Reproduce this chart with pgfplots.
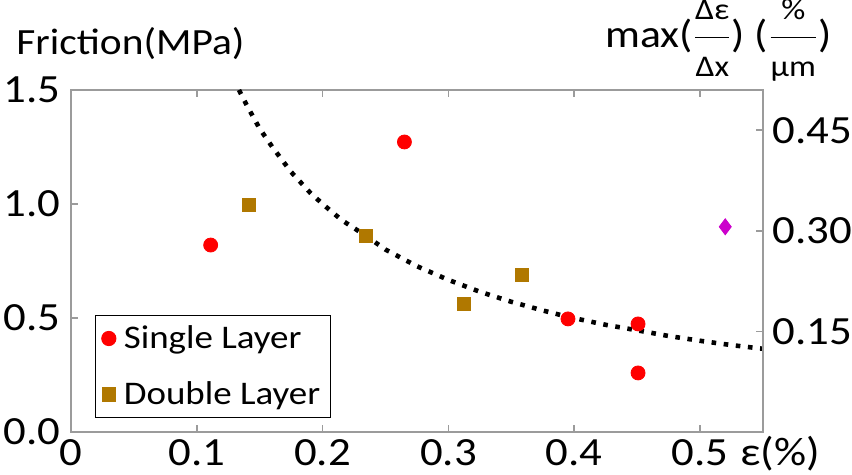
\documentclass[border=0pt]{standalone}
\usepackage{fontspec}
\setmainfont{Carlito}[FakeStretch=1.12]
\usepackage{pgfplots}
\pgfplotsset{compat=1.18}
\definecolor{dbl}{RGB}{176,120,0}
\definecolor{axgray}{RGB}{155,155,155}
\definecolor{purp}{RGB}{204,0,204}
\newcommand{\fr}[1]{\mbox{\fontsize{15}{16}\selectfont #1}}
\begin{document}
\begin{tikzpicture}
\begin{axis}[
  scale only axis, width=346pt, height=171pt,
  xmin=0, xmax=0.55, ymin=0, ymax=1.5,
  axis line style={axgray, line width=1pt},
  xtick={0,0.1,0.2,0.3,0.4,0.5},
  xticklabels={0,0.1,0.2,0.3,0.4,0.5},
  ytick={0,0.5,1.0,1.5},
  yticklabels={0.0,0.5,1.0,1.5},
  xtick pos=both, xticklabel pos=bottom,
  ytick pos=left,
  tick align=inside,
  major tick length=3.5pt,
  tick style={axgray, line width=0.8pt},
  tick label style={font=\fontsize{20}{24}\selectfont, text=black},
  yticklabel style={inner xsep=5pt},
  /pgf/number format/assume math mode=true,
  legend style={at={(0.035,0.041)}, anchor=south west, draw=black, line width=0.6pt,
    font=\fontsize{16.5}{19}\selectfont, row sep=11pt, inner xsep=3pt, inner ysep=3pt},
  legend cell align=left,
]
\addplot[only marks, mark=*, mark size=3.5pt, color=red] coordinates {
  (0.111,0.82) (0.265,1.272) (0.395,0.496) (0.4507,0.474) (0.4507,0.259)
};
\addlegendentry{\hspace{2pt}Single Layer}
\addplot[only marks, mark=square*, mark size=3.25pt, color=dbl] coordinates {
  (0.141,0.996) (0.2345,0.86) (0.3124,0.561) (0.3585,0.689)
};
\addlegendentry{\hspace{2pt}Double Layer}
\addplot[forget plot, black, line width=2.3pt, dash pattern=on 2.3pt off 3.8pt] coordinates {
  (0.1335,1.5) (0.14,1.43) (0.15,1.33) (0.16,1.25) (0.175,1.14) (0.19,1.05) (0.2,1.0)
  (0.215,0.93) (0.2345,0.86) (0.25,0.80) (0.275,0.727) (0.3,0.667) (0.325,0.615)
  (0.35,0.571) (0.375,0.533) (0.395,0.505) (0.425,0.47) (0.45,0.446) (0.475,0.421)
  (0.5,0.40) (0.525,0.381) (0.55,0.365)
};
\coordinate (ll) at (rel axis cs:0,0);
\coordinate (ul) at (rel axis cs:0,1);
\coordinate (ur) at (rel axis cs:1,1);
\coordinate (lr) at (rel axis cs:1,0);
\end{axis}
\begin{axis}[
  scale only axis, width=346pt, height=171pt,
  xmin=0, xmax=0.55, ymin=0, ymax=0.51,
  axis x line=none, axis y line*=right,
  axis line style={axgray, line width=1pt},
  ytick={0.15,0.30,0.45},
  yticklabels={0.15,0.30,0.45},
  tick align=inside,
  major tick length=3.5pt,
  tick style={axgray, line width=0.8pt},
  tick label style={font=\fontsize{20}{24}\selectfont, text=black},
  yticklabel style={inner xsep=4.5pt},
  /pgf/number format/assume math mode=true,
]
\addplot[only marks, mark=diamond*, mark size=4pt, color=purp] coordinates {(0.52,0.306)};
\end{axis}
\node[anchor=base west, inner sep=0, font=\fontsize{18.5}{20}\selectfont] at ([xshift=-27.5pt,yshift=17.5pt]ul) {Friction(MPa)};
\node[anchor=base east, inner sep=0, font=\fontsize{19.5}{21}\selectfont] at ([xshift=34.5pt,yshift=21pt]ur)
  {max($\displaystyle\frac{\fr{Δε}}{\fr{Δx}}$) ($\displaystyle\frac{\fr{\%}}{\fr{μm}}$)};
\node[anchor=base west, inner sep=0, font=\fontsize{20}{24}\selectfont] at ([xshift=-11.5pt,yshift=-17pt]lr) {ε(\%)};
\pgfresetboundingbox
\path ([xshift=-35.5pt,yshift=-21.5pt]ll) rectangle ([xshift=44.5pt,yshift=45pt]ur);
\end{tikzpicture}
\end{document}
